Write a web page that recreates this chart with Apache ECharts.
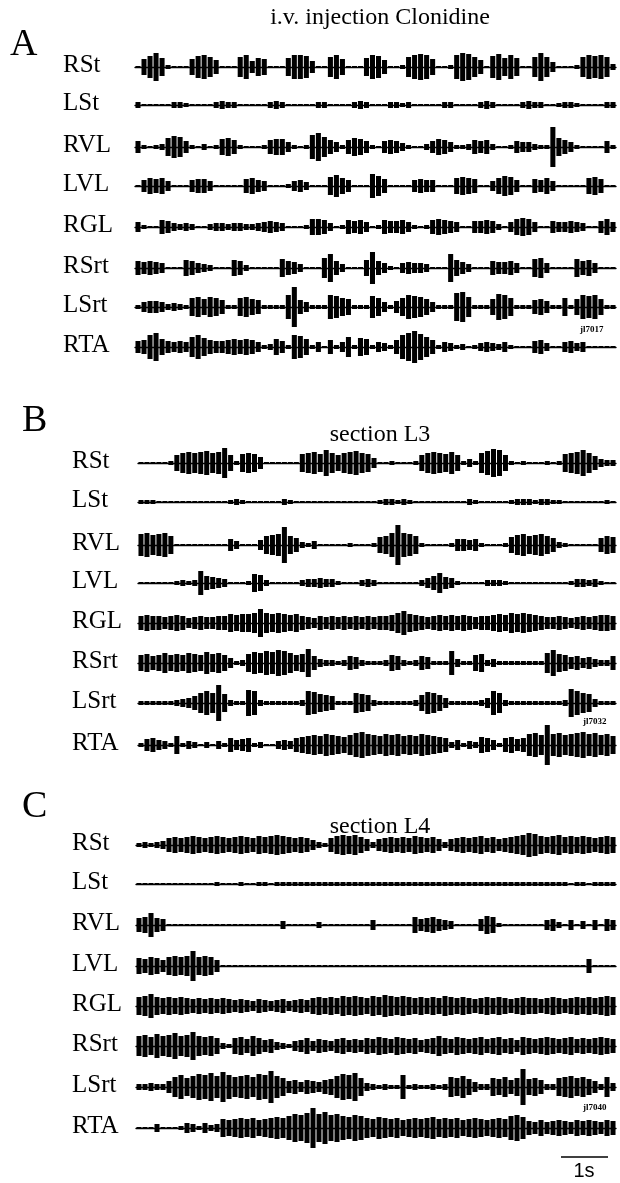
<!DOCTYPE html>
<html><head><meta charset="utf-8">
<script src="https://cdn.jsdelivr.net/npm/echarts@6/dist/echarts.min.js"></script>
<style>html,body{margin:0;padding:0;background:#fff}#c{width:620px;height:1183px}</style>
</head><body><div id="c"></div>
<script>
// Channel names (same in each panel)
const channels = ['RSt','LSt','RVL','LVL','RGL','RSrt','LSrt','RTA'];
const panelLetters = ['A','B','C'];
const panelTitles = ['i.v. injection Clonidine','section L3','section L4'];
const fileTags = ['jl7017','jl7032','jl7040'];
const scaleBarLabel = '1s';

// EMG envelope amplitudes (80 time bins per trace, arbitrary units)
// Panel A
const aRSt = [1,8,11,14,9,2,1,1,1,8, 11,12,10,7,1,1,1,10,12,6, 9,8,1,1,1,9,12,12,11,6, 1,1,10,12,8,1,1,1,9,12, 11,7,1,1,2,10,12,13,12,8, 1,1,2,12,14,13,10,7,1,11, 13,9,12,9,1,1,10,14,10,5, 1,1,1,2,10,12,11,12,10,3];
const aLSt = [3,1,1,1,1,1,3,3,2,1, 1,1,1,3,4,3,3,1,1,1, 1,1,3,4,3,1,1,1,1,1, 3,3,1,1,1,1,3,4,3,1, 1,1,3,3,2,3,1,1,1,1, 1,3,3,1,1,1,1,3,4,3, 1,1,1,1,3,4,3,3,1,1, 2,3,3,2,1,1,1,1,3,3];
const aRVL = [6,2,1,2,3,9,11,10,6,2, 1,3,1,2,8,9,7,2,1,1, 1,2,7,8,8,5,2,1,2,12, 14,10,7,5,2,7,9,8,6,2, 1,6,7,6,4,2,1,1,3,6, 8,7,5,2,2,3,7,6,7,3, 1,1,2,6,5,5,3,2,2,20, 9,7,5,2,1,1,1,1,6,2];
const aLVL = [1,6,8,7,8,5,1,1,1,6, 7,7,5,1,1,1,1,1,7,8, 6,5,1,1,1,2,5,6,4,1, 1,1,9,11,8,6,1,1,1,12, 10,7,1,1,1,1,6,7,6,6, 1,1,1,8,9,8,7,1,1,5, 8,10,9,6,1,1,7,6,8,5, 1,1,1,1,1,8,9,7,1,1];
const aRGL = [5,2,1,1,7,6,4,3,4,3, 1,1,3,4,4,3,4,4,3,3, 4,5,6,5,4,1,1,1,2,8, 8,7,4,1,2,7,6,7,5,1, 2,7,6,6,7,5,2,1,2,7, 8,7,6,5,1,1,6,6,7,6, 3,1,5,8,9,8,5,1,1,6, 5,5,6,5,4,1,1,6,8,5];
const aRSrt = [7,6,7,6,5,1,1,1,8,7, 5,4,3,1,1,1,8,7,3,1, 1,1,1,1,9,7,6,4,1,1, 1,10,14,7,4,1,1,1,8,16, 7,5,2,1,5,6,5,5,4,1, 1,1,14,8,6,4,1,1,1,7, 6,6,7,5,1,1,9,10,5,1, 1,1,1,9,7,8,5,1,1,1];
const aLSrt = [2,5,6,6,5,3,4,3,2,9, 10,8,10,9,7,2,2,9,10,8, 7,2,2,2,2,12,20,7,5,2, 2,2,12,11,9,8,2,2,2,11, 9,5,2,6,9,12,11,10,8,5, 2,2,2,14,15,10,2,2,2,8, 13,12,9,2,2,2,7,8,6,2, 2,9,2,8,12,11,12,8,2,2];
const aRTA = [6,7,12,14,8,6,5,6,5,10, 12,9,7,6,6,7,8,7,8,7, 5,2,3,8,6,2,12,11,8,2, 5,1,7,2,5,10,2,9,8,2, 5,4,2,7,12,14,16,13,10,7, 2,5,4,2,3,1,2,4,5,4, 3,5,2,1,1,1,6,7,4,1, 1,5,6,4,5,1,1,1,1,1];
// Panel B
const bRSt = [1,1,1,1,1,2,8,10,11,10, 11,12,10,11,15,8,2,9,10,9, 6,1,1,1,1,1,1,9,10,11, 9,13,10,8,10,11,12,10,9,5, 1,1,2,1,1,1,2,8,10,11, 10,9,11,8,2,4,2,10,12,14, 13,8,2,1,2,1,1,1,2,1, 2,9,10,11,13,10,7,4,3,3];
const bLSt = [2,2,2,1,1,1,1,1,1,1, 1,1,1,1,1,2,3,2,1,1, 1,1,1,1,3,2,1,1,1,1, 1,1,1,1,1,1,1,1,1,1, 2,3,3,2,3,2,1,1,1,1, 1,1,1,1,1,3,2,1,1,1, 1,1,2,3,3,3,2,3,3,2, 2,1,1,1,1,1,1,1,2,1];
const bRVL = [11,12,10,11,12,9,1,1,1,1, 1,1,1,1,1,6,4,1,1,1, 5,9,10,11,18,9,7,3,2,4, 1,1,1,1,1,2,1,1,1,2, 8,9,12,20,12,11,9,2,1,1, 1,1,2,6,6,5,6,2,1,1, 1,2,8,10,11,9,10,11,9,7, 3,2,1,1,1,1,1,7,9,8];
const bLVL = [1,1,1,1,1,1,2,3,2,3, 12,7,6,5,4,1,1,1,2,9, 8,3,1,1,1,1,1,3,4,4, 5,4,4,2,1,1,1,3,4,3, 1,1,1,1,1,1,1,3,5,7, 10,6,5,2,1,1,1,1,3,3, 3,2,1,1,1,1,1,1,1,1, 1,1,2,4,4,3,4,2,1,1];
const bRGL = [7,8,7,7,6,7,8,7,5,6, 7,6,6,7,7,9,8,9,9,10, 14,10,9,10,9,8,9,7,6,5, 7,6,7,6,7,6,7,6,7,6, 7,7,8,10,12,9,8,7,6,7, 8,7,8,7,8,7,6,7,7,8, 9,8,10,9,10,9,8,7,6,6, 7,6,5,6,7,6,7,8,8,7];
const bRSrt = [8,9,7,8,10,8,9,8,10,9, 8,11,9,10,8,5,2,3,9,11, 10,12,11,13,12,10,8,9,14,7, 4,3,3,2,3,7,6,3,2,2, 2,3,8,7,3,2,3,7,6,2, 2,2,12,4,2,2,8,9,3,4, 2,2,2,2,2,2,2,2,10,13, 9,8,6,7,5,6,4,3,3,7];
const bLSrt = [2,2,2,2,2,2,3,4,5,7, 10,12,10,18,9,3,2,2,13,12, 3,2,2,2,2,2,2,3,12,11, 9,8,7,2,2,2,10,9,8,3, 2,2,2,2,2,2,3,8,11,10, 8,5,2,2,2,2,2,3,5,12, 10,3,2,2,2,2,2,2,2,2, 2,3,14,12,10,9,4,2,2,2];
const bRTA = [2,6,7,5,4,2,9,2,4,3, 1,3,1,4,2,7,5,6,7,2, 3,1,1,4,5,4,7,8,9,10, 9,11,10,9,8,10,12,13,11,10, 9,11,10,11,9,10,9,11,10,9, 8,7,3,5,2,4,3,8,7,5, 2,7,8,6,7,11,12,10,20,11, 12,10,11,12,13,11,12,10,11,9];
// Panel C
const cRSt = [2,3,2,3,4,7,8,7,8,9, 8,7,8,9,8,7,8,9,8,7, 9,8,9,10,9,8,7,8,7,5, 3,2,7,9,10,9,10,8,6,3, 6,7,8,7,8,7,9,8,7,8, 6,3,6,7,8,7,8,9,7,8, 6,7,8,9,10,12,11,9,8,9, 10,8,9,8,9,8,7,8,9,8];
const cLSt = [1,1,1,1,1,1,1,1,1,1, 1,1,1,2,1,1,1,2,1,1, 2,2,1,2,2,2,2,2,2,2, 2,2,2,2,2,2,2,2,2,2, 2,2,2,2,2,2,2,2,2,2, 2,2,2,2,2,2,2,2,2,2, 2,2,2,2,2,2,2,2,2,2, 2,2,1,2,2,1,2,2,2,2];
const cRVL = [7,8,12,7,6,1,1,1,1,1, 1,1,1,1,1,1,1,1,1,1, 1,1,1,1,4,1,1,1,1,1, 3,1,1,1,1,1,1,1,1,5, 1,1,1,1,1,1,8,6,7,8, 6,5,4,1,1,1,1,6,9,8, 2,1,1,1,1,1,1,1,5,6, 3,1,5,1,4,1,5,1,6,5];
const cLVL = [8,7,9,8,6,9,10,9,10,15, 9,10,9,6,1,1,1,1,1,1, 1,1,1,1,1,1,1,1,1,1, 1,1,1,1,1,1,1,1,1,1, 1,1,1,1,1,1,1,1,1,1, 1,1,1,1,1,1,1,1,1,1, 1,1,1,1,1,1,1,1,1,1, 1,1,1,1,1,7,1,1,1,1];
const cRGL = [9,10,12,9,8,9,8,9,8,7, 8,7,8,7,8,7,6,7,6,5, 7,6,5,6,7,5,6,7,6,8, 9,8,9,8,10,9,10,9,8,10, 9,11,10,9,10,9,8,9,8,9, 8,10,9,8,9,8,7,8,9,8, 9,8,7,8,9,8,8,7,8,9, 8,7,8,9,8,9,8,9,10,9];
const cRSrt = [10,11,9,12,10,11,13,10,11,14, 10,9,10,8,3,2,8,9,7,10, 8,6,7,4,3,2,5,6,8,5, 7,6,5,7,8,6,7,6,8,7, 9,8,7,9,8,7,8,6,7,8, 10,8,7,9,8,7,8,9,7,8, 9,7,8,6,9,8,7,8,9,8, 7,8,9,7,8,7,8,9,8,7];
const cLSrt = [3,3,4,3,3,6,10,12,9,11, 13,12,14,11,15,12,10,11,12,10, 13,12,16,11,9,6,7,5,7,6, 5,7,8,11,13,12,14,9,4,3, 2,3,2,2,12,2,3,2,2,3, 2,3,10,9,11,8,5,3,3,9, 8,10,7,9,18,8,9,7,3,3, 9,10,11,9,10,8,6,3,10,4];
const cRTA = [1,1,1,4,1,1,1,2,5,4, 2,5,3,4,9,8,9,10,9,10, 8,9,10,11,10,12,14,13,15,20, 14,16,13,14,12,11,13,12,10,9, 11,10,9,10,8,9,10,9,10,11, 9,10,9,10,8,9,10,9,8,9, 10,9,12,13,11,7,6,8,6,7, 8,7,6,8,7,8,7,6,8,7];

const panelData = [
  [aRSt,aLSt,aRVL,aLVL,aRGL,aRSrt,aLSrt,aRTA],
  [bRSt,bLSt,bRVL,bLVL,bRGL,bRSrt,bLSrt,bRTA],
  [cRSt,cLSt,cRVL,cLVL,cRGL,cRSrt,cLSrt,cRTA]
];

// ---- layout ----
const NBINS = 80;
const baselines = [
  [67,105,147,186,227,268,307,347],
  [463,502,545,583,623,663,703,745],
  [845,884,925,966,1006,1046,1087,1128]
];
const traceLeft = [135,138,136];
const traceRight = 616;
const labelX = [63,72,72];
const letterPos = [[10,26],[22,402],[22,788]];
const titleY = [18,435,827];
const titleX = 380;
const tagPos = [[580,330],[583,722],[583,1108]];

const SERIF = 'Liberation Serif, Times New Roman, serif';
const grids = [], xAxes = [], yAxes = [], series = [], graphics = [];

function renderItem(params, api){
  const x = api.value(0), a = api.value(1);
  const p1 = api.coord([x, a]);
  const p2 = api.coord([x, -a]);
  const w = api.size([1, 0])[0];
  return {
    type: 'rect',
    shape: { x: p1[0] - w*0.42, y: p1[1], width: w*0.84, height: Math.max(1.2, p2[1]-p1[1]) },
    style: { fill: '#000' }
  };
}

panelData.forEach((traces, p) => {
  traces.forEach((vals, k) => {
    const gi = grids.length;
    const base = baselines[p][k];
    grids.push({ left: traceLeft[p], width: traceRight - traceLeft[p], top: base - 20, height: 40 });
    xAxes.push({ gridIndex: gi, type: 'value', min: 0, max: NBINS,
      axisLine: { show: true, onZero: true, lineStyle: { color: '#000', width: 1.4 } },
      axisTick: { show: false }, axisLabel: { show: false }, splitLine: { show: false } });
    yAxes.push({ gridIndex: gi, type: 'value', min: -20, max: 20, show: false,
      splitLine: { show: false } });
    series.push({ type: 'custom', name: panelLetters[p] + ' ' + channels[k],
      xAxisIndex: gi, yAxisIndex: gi, renderItem: renderItem, silent: true, clip: false,
      data: vals.map((v, i) => [i + 0.5, v]) });
    graphics.push({ type: 'text', left: labelX[p], top: base - 14,
      style: { text: channels[k], font: '25px ' + SERIF, fill: '#000' } });
  });
  graphics.push({ type: 'text', left: letterPos[p][0], top: letterPos[p][1],
    style: { text: panelLetters[p], font: '38px ' + SERIF, fill: '#000' } });
  graphics.push({ type: 'text', x: titleX, y: titleY[p],
    style: { text: panelTitles[p], font: '24px ' + SERIF, fill: '#000', textAlign: 'center', textVerticalAlign: 'middle' } });
  graphics.push({ type: 'text', x: tagPos[p][0], y: tagPos[p][1],
    style: { text: fileTags[p], font: 'bold 9px ' + SERIF, fill: '#000', textAlign: 'left', textVerticalAlign: 'middle' } });
});

// 1 s scale bar
graphics.push({ type: 'line', shape: { x1: 561, y1: 1157, x2: 608, y2: 1157 }, style: { stroke: '#000', lineWidth: 1.5 } });
graphics.push({ type: 'text', x: 584, y: 1171,
  style: { text: scaleBarLabel, font: '20px Liberation Sans, Arial, sans-serif', fill: '#000', textAlign: 'center', textVerticalAlign: 'middle' } });

const chart = echarts.init(document.getElementById('c'), null, { renderer: 'canvas' });
chart.setOption({
  animation: false,
  backgroundColor: '#fff',
  grid: grids, xAxis: xAxes, yAxis: yAxes, series: series, graphic: graphics
});
</script></body></html>
